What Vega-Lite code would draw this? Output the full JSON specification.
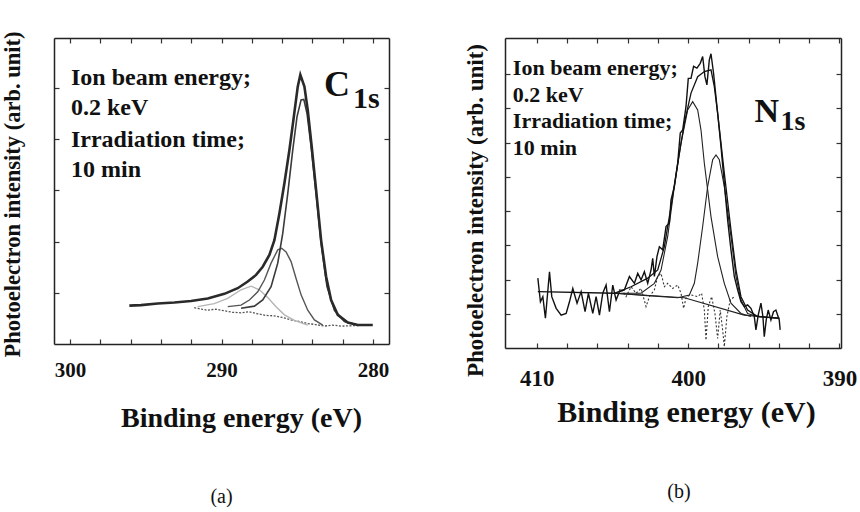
{
  "$schema": "https://vega.github.io/schema/vega-lite/v6.json",
  "background": "white",
  "padding": {"left": 1, "top": 31, "right": 0, "bottom": 0},
  "spacing": 116,
  "bounds": "flush",
  "datasets": {
    "c1s": [
      {"s":"env","be":296.08,"i":0.75},{"s":"env","be":295.31,"i":0.76},{"s":"env","be":294.21,"i":0.79},{"s":"env","be":293.11,"i":0.81},{"s":"env","be":292.01,"i":0.84},{"s":"env","be":290.91,"i":0.89},{"s":"env","be":289.81,"i":0.98},{"s":"env","be":288.93,"i":1.09},{"s":"env","be":288.27,"i":1.22},{"s":"env","be":287.72,"i":1.35},{"s":"env","be":287.28,"i":1.51},{"s":"env","be":286.84,"i":1.74},{"s":"env","be":286.51,"i":2.03},{"s":"env","be":286.18,"i":2.55},{"s":"env","be":285.85,"i":3.14},{"s":"env","be":285.52,"i":3.79},{"s":"env","be":285.23,"i":4.44},{"s":"env","be":284.97,"i":5.03},{"s":"env","be":284.8,"i":5.26},{"s":"env","be":284.53,"i":5.03},{"s":"env","be":284.31,"i":4.57},{"s":"env","be":284.05,"i":3.86},{"s":"env","be":283.76,"i":3.01},{"s":"env","be":283.43,"i":2.03},{"s":"env","be":283.1,"i":1.32},{"s":"env","be":282.77,"i":0.86},{"s":"env","be":282.33,"i":0.57},{"s":"env","be":281.67,"i":0.42},{"s":"env","be":281.01,"i":0.37},{"s":"env","be":280.02,"i":0.37},
      {"s":"main","be":288.71,"i":0.70},{"s":"main","be":287.83,"i":0.74},{"s":"main","be":287.28,"i":0.86},{"s":"main","be":286.73,"i":1.12},{"s":"main","be":286.29,"i":1.58},{"s":"main","be":285.96,"i":2.16},{"s":"main","be":285.63,"i":2.94},{"s":"main","be":285.3,"i":3.79},{"s":"main","be":285.02,"i":4.44},{"s":"main","be":284.75,"i":4.77},{"s":"main","be":284.57,"i":4.78},{"s":"main","be":284.36,"i":4.51},{"s":"main","be":284.09,"i":3.86},{"s":"main","be":283.76,"i":2.94},{"s":"main","be":283.43,"i":1.97},{"s":"main","be":283.04,"i":1.12},{"s":"main","be":282.55,"i":0.66},{"s":"main","be":281.89,"i":0.44},{"s":"main","be":281.01,"i":0.37},
      {"s":"sec","be":289.59,"i":0.73},{"s":"sec","be":288.71,"i":0.76},{"s":"sec","be":288.16,"i":0.86},{"s":"sec","be":287.61,"i":1.02},{"s":"sec","be":287.17,"i":1.25},{"s":"sec","be":286.73,"i":1.58},{"s":"sec","be":286.29,"i":1.84},{"s":"sec","be":286.03,"i":1.87},{"s":"sec","be":285.74,"i":1.80},{"s":"sec","be":285.41,"i":1.61},{"s":"sec","be":285.08,"i":1.28},{"s":"sec","be":284.75,"i":0.96},{"s":"sec","be":284.31,"i":0.66},{"s":"sec","be":283.87,"i":0.47},{"s":"sec","be":283.32,"i":0.37},
      {"s":"third","be":291.57,"i":0.73},{"s":"third","be":290.48,"i":0.79},{"s":"third","be":289.59,"i":0.89},{"s":"third","be":288.71,"i":1.06},{"s":"third","be":288.05,"i":1.13},{"s":"third","be":287.5,"i":1.06},{"s":"third","be":286.95,"i":0.91},{"s":"third","be":286.4,"i":0.73},{"s":"third","be":285.85,"i":0.57},{"s":"third","be":285.19,"i":0.46},{"s":"third","be":284.31,"i":0.37},
      {"s":"base","be":291.8,"i":0.71},{"s":"base","be":291.3,"i":0.68},{"s":"base","be":290.91,"i":0.66},{"s":"base","be":290.4,"i":0.68},{"s":"base","be":289.81,"i":0.65},{"s":"base","be":289.3,"i":0.62},{"s":"base","be":288.71,"i":0.61},{"s":"base","be":288.2,"i":0.63},{"s":"base","be":287.61,"i":0.59},{"s":"base","be":287.1,"i":0.56},{"s":"base","be":286.51,"i":0.55},{"s":"base","be":286.0,"i":0.52},{"s":"base","be":285.41,"i":0.47},{"s":"base","be":284.9,"i":0.44},{"s":"base","be":284.31,"i":0.40},{"s":"base","be":283.8,"i":0.38},{"s":"base","be":283.21,"i":0.35},{"s":"base","be":282.7,"i":0.37},{"s":"base","be":282.11,"i":0.35},{"s":"base","be":281.1,"i":0.36},{"s":"base","be":280.09,"i":0.37}
    ],
    "n1s": [
      {"s":"exp","be":409.93,"i":2.04},{"s":"exp","be":409.76,"i":1.35},{"s":"exp","be":409.6,"i":1.50},{"s":"exp","be":409.43,"i":0.87},{"s":"exp","be":409.16,"i":2.23},{"s":"exp","be":409.01,"i":1.50},{"s":"exp","be":408.72,"i":1.16},{"s":"exp","be":408.39,"i":0.96},{"s":"exp","be":408.06,"i":1.01},{"s":"exp","be":407.84,"i":1.35},{"s":"exp","be":407.62,"i":1.74},{"s":"exp","be":407.34,"i":1.31},{"s":"exp","be":407.07,"i":1.65},{"s":"exp","be":406.81,"i":1.06},{"s":"exp","be":406.59,"i":1.60},{"s":"exp","be":406.3,"i":1.01},{"s":"exp","be":406.08,"i":1.50},{"s":"exp","be":405.86,"i":0.96},{"s":"exp","be":405.64,"i":1.60},{"s":"exp","be":405.42,"i":1.84},{"s":"exp","be":405.2,"i":1.06},{"s":"exp","be":404.98,"i":1.84},{"s":"exp","be":404.76,"i":1.40},{"s":"exp","be":404.54,"i":1.65},{"s":"exp","be":404.21,"i":1.70},{"s":"exp","be":403.88,"i":2.09},{"s":"exp","be":403.55,"i":1.89},{"s":"exp","be":403.33,"i":2.18},{"s":"exp","be":403.11,"i":1.99},{"s":"exp","be":402.89,"i":2.23},{"s":"exp","be":402.67,"i":1.89},{"s":"exp","be":402.45,"i":2.28},{"s":"exp","be":402.34,"i":2.62},{"s":"exp","be":402.23,"i":2.09},{"s":"exp","be":402.06,"i":2.67},{"s":"exp","be":401.9,"i":2.96},{"s":"exp","be":401.68,"i":2.87},{"s":"exp","be":401.46,"i":3.55},{"s":"exp","be":401.24,"i":3.65},{"s":"exp","be":401.13,"i":4.33},{"s":"exp","be":400.91,"i":4.72},{"s":"exp","be":400.69,"i":5.40},{"s":"exp","be":400.52,"i":6.28},{"s":"exp","be":400.36,"i":6.37},{"s":"exp","be":400.14,"i":7.06},{"s":"exp","be":399.99,"i":7.88},{"s":"exp","be":399.81,"i":7.88},{"s":"exp","be":399.64,"i":8.23},{"s":"exp","be":399.42,"i":8.18},{"s":"exp","be":399.2,"i":8.32},{"s":"exp","be":399.04,"i":8.52},{"s":"exp","be":398.89,"i":7.93},{"s":"exp","be":398.76,"i":7.69},{"s":"exp","be":398.6,"i":8.42},{"s":"exp","be":398.49,"i":8.60},{"s":"exp","be":398.32,"i":8.03},{"s":"exp","be":398.05,"i":6.86},{"s":"exp","be":397.83,"i":5.89},{"s":"exp","be":397.61,"i":4.81},{"s":"exp","be":397.39,"i":3.74},{"s":"exp","be":397.17,"i":2.87},{"s":"exp","be":396.95,"i":2.09},{"s":"exp","be":396.73,"i":1.70},{"s":"exp","be":396.51,"i":1.35},{"s":"exp","be":396.29,"i":1.21},{"s":"exp","be":396.07,"i":1.26},{"s":"exp","be":395.85,"i":1.16},{"s":"exp","be":395.63,"i":0.92},{"s":"exp","be":395.52,"i":0.53},{"s":"exp","be":395.37,"i":0.96},{"s":"exp","be":395.19,"i":1.31},{"s":"exp","be":395.06,"i":0.92},{"s":"exp","be":394.97,"i":0.33},{"s":"exp","be":394.84,"i":0.82},{"s":"exp","be":394.71,"i":1.11},{"s":"exp","be":394.53,"i":0.82},{"s":"exp","be":394.36,"i":1.06},{"s":"exp","be":394.2,"i":1.11},{"s":"exp","be":393.98,"i":0.82},{"s":"exp","be":393.92,"i":0.53},
      {"s":"fit","be":409.93,"i":1.65},{"s":"fit","be":404.87,"i":1.60},{"s":"fit","be":403.77,"i":1.79},{"s":"fit","be":402.67,"i":2.04},{"s":"fit","be":402.01,"i":2.28},{"s":"fit","be":401.57,"i":2.96},{"s":"fit","be":401.13,"i":4.13},{"s":"fit","be":400.69,"i":5.40},{"s":"fit","be":400.25,"i":6.57},{"s":"fit","be":399.81,"i":7.45},{"s":"fit","be":399.37,"i":7.93},{"s":"fit","be":398.93,"i":8.08},{"s":"fit","be":398.49,"i":8.13},{"s":"fit","be":398.27,"i":7.64},{"s":"fit","be":398.05,"i":6.86},{"s":"fit","be":397.61,"i":5.11},{"s":"fit","be":397.17,"i":3.45},{"s":"fit","be":396.84,"i":2.28},{"s":"fit","be":396.51,"i":1.50},{"s":"fit","be":396.07,"i":1.11},{"s":"fit","be":395.41,"i":0.92},{"s":"fit","be":393.98,"i":0.87},
      {"s":"p1","be":404.87,"i":1.60},{"s":"p1","be":403.11,"i":1.60},{"s":"p1","be":402.23,"i":1.89},{"s":"p1","be":401.79,"i":2.28},{"s":"p1","be":401.35,"i":3.26},{"s":"p1","be":400.91,"i":4.72},{"s":"p1","be":400.47,"i":5.98},{"s":"p1","be":400.03,"i":6.96},{"s":"p1","be":399.7,"i":7.20},{"s":"p1","be":399.37,"i":6.96},{"s":"p1","be":399.15,"i":6.37},{"s":"p1","be":398.93,"i":5.40},{"s":"p1","be":398.49,"i":3.84},{"s":"p1","be":398.05,"i":2.67},{"s":"p1","be":397.61,"i":1.89},{"s":"p1","be":397.17,"i":1.31},{"s":"p1","be":396.51,"i":1.01},{"s":"p1","be":395.85,"i":0.92},
      {"s":"p2","be":404.87,"i":1.60},{"s":"p2","be":402.67,"i":1.53},{"s":"p2","be":400.69,"i":1.47},{"s":"p2","be":399.92,"i":1.55},{"s":"p2","be":399.59,"i":1.89},{"s":"p2","be":399.37,"i":2.48},{"s":"p2","be":399.04,"i":3.55},{"s":"p2","be":398.71,"i":4.72},{"s":"p2","be":398.38,"i":5.50},{"s":"p2","be":398.16,"i":5.64},{"s":"p2","be":397.94,"i":5.50},{"s":"p2","be":397.61,"i":4.72},{"s":"p2","be":397.17,"i":3.26},{"s":"p2","be":396.84,"i":2.09},{"s":"p2","be":396.51,"i":1.40},{"s":"p2","be":396.07,"i":1.01},{"s":"p2","be":395.41,"i":0.92},{"s":"p2","be":393.98,"i":0.87},
      {"s":"bg","be":404.87,"i":1.60},{"s":"bg","be":400.25,"i":1.47},{"s":"bg","be":396.29,"i":0.96},{"s":"bg","be":393.98,"i":0.87},
      {"s":"res","be":404.76,"i":1.60},{"s":"res","be":404.43,"i":1.74},{"s":"res","be":404.1,"i":1.50},{"s":"res","be":403.77,"i":1.79},{"s":"res","be":403.44,"i":1.60},{"s":"res","be":403.11,"i":1.74},{"s":"res","be":402.78,"i":1.21},{"s":"res","be":402.56,"i":1.50},{"s":"res","be":402.23,"i":1.70},{"s":"res","be":402.01,"i":2.09},{"s":"res","be":401.79,"i":2.18},{"s":"res","be":401.57,"i":1.79},{"s":"res","be":401.35,"i":1.89},{"s":"res","be":401.02,"i":1.74},{"s":"res","be":400.69,"i":1.84},{"s":"res","be":400.47,"i":1.60},{"s":"res","be":400.3,"i":1.16},{"s":"res","be":400.12,"i":1.50},{"s":"res","be":399.81,"i":1.55},{"s":"res","be":399.37,"i":1.50},{"s":"res","be":399.11,"i":1.60},{"s":"res","be":398.93,"i":1.11},{"s":"res","be":398.82,"i":0.23},{"s":"res","be":398.67,"i":1.21},{"s":"res","be":398.45,"i":1.50},{"s":"res","be":398.23,"i":1.01},{"s":"res","be":398.05,"i":0.28},{"s":"res","be":397.88,"i":1.11},{"s":"res","be":397.72,"i":0.53},{"s":"res","be":397.61,"i":0.04},{"s":"res","be":397.44,"i":0.92},{"s":"res","be":397.22,"i":1.40},{"s":"res","be":396.95,"i":1.50}
    ],
    "annL": [
      {"k":"block","be":299.93,"i":5.06,"t":"Ion beam energy;"},
      {"k":"block","be":299.93,"i":4.48,"t":"0.2 keV"},
      {"k":"block","be":299.93,"i":3.85,"t":"Irradiation time;"},
      {"k":"block","be":299.93,"i":3.26,"t":"10 min"},
      {"k":"big","be":283.23,"i":4.85,"t":"C"},
      {"k":"sub","be":281.32,"i":4.61,"t":"1s"}
    ],
    "annR": [
      {"k":"block","be":411.58,"i":7.98,"t":"Ion beam energy;"},
      {"k":"block","be":411.58,"i":7.19,"t":"0.2 keV"},
      {"k":"block","be":411.58,"i":6.43,"t":"Irradiation time;"},
      {"k":"block","be":411.58,"i":5.64,"t":"10 min"},
      {"k":"big","be":395.61,"i":6.61,"t":"N"},
      {"k":"sub","be":393.89,"i":6.37,"t":"1s"}
    ]
  },
  "hconcat": [
    {
      "width": 335,
      "height": 306,
      "title": {"text": "(a)", "orient": "bottom", "anchor": "middle", "offset": 55, "font": "Liberation Serif", "fontSize": 20, "fontWeight": "normal", "color": "#111"},
      "layer": [
        {
          "data": {"name": "c1s"},
          "transform": [{"filter": "datum.s === 'base'"}],
          "mark": {"type": "line", "stroke": "#555", "strokeWidth": 1.3, "strokeDash": [2, 1.5]},
          "encoding": {
            "x": {"field": "be", "type": "quantitative", "scale": {"domain": [278.95, 301.05], "reverse": true, "nice": false, "zero": false},
                  "axis": {"orient": "bottom", "values": [280,282,284,286,288,290,292,294,296,298,300], "labelExpr": "datum.value % 10 === 0 ? datum.label : ''", "labelFontSize": 21, "labelBaseline": "alphabetic", "labelPadding": 37, "title": "Binding energy (eV)", "titleFontSize": 28, "titleX": 187, "titleY": 82, "titleBaseline": "alphabetic", "titleAlign": "center"}},
            "y": {"field": "i", "type": "quantitative", "scale": {"domain": [0, 5.98], "nice": false, "zero": false},
                  "axis": {"orient": "left", "values": [1,2,3,4,5], "labels": false, "title": "Photoelectron intensity (arb. unit)", "titleFontSize": 22.5, "titleX": -30, "titleY": 156, "titleBaseline": "bottom", "titleAlign": "center", "titleAngle": -90}}
          }
        },
        {
          "data": {"name": "c1s"},
          "transform": [{"filter": "datum.s === 'third'"}],
          "mark": {"type": "line", "stroke": "#b5b5b5", "strokeWidth": 1.4},
          "encoding": {
            "x": {"field": "be", "type": "quantitative", "scale": {"domain": [278.95, 301.05], "reverse": true, "nice": false, "zero": false},
                  "axis": {"orient": "top", "values": [280,282,284,286,288,290,292,294,296,298,300], "labels": false, "title": null}},
            "y": {"field": "i", "type": "quantitative", "scale": {"domain": [0, 5.98], "nice": false, "zero": false},
                  "axis": {"orient": "right", "values": [1,2,3,4,5], "labels": false, "title": null}}
          }
        },
        {
          "data": {"name": "c1s"},
          "transform": [{"filter": "datum.s === 'sec'"}],
          "mark": {"type": "line", "stroke": "#555", "strokeWidth": 1.4},
          "encoding": {
            "x": {"field": "be", "type": "quantitative", "scale": {"domain": [278.95, 301.05], "reverse": true, "nice": false, "zero": false}, "axis": null},
            "y": {"field": "i", "type": "quantitative", "scale": {"domain": [0, 5.98], "nice": false, "zero": false}, "axis": null}
          }
        },
        {
          "data": {"name": "c1s"},
          "transform": [{"filter": "datum.s === 'main'"}],
          "mark": {"type": "line", "stroke": "#3a3a3a", "strokeWidth": 1.6},
          "encoding": {
            "x": {"field": "be", "type": "quantitative", "scale": {"domain": [278.95, 301.05], "reverse": true, "nice": false, "zero": false}, "axis": null},
            "y": {"field": "i", "type": "quantitative", "scale": {"domain": [0, 5.98], "nice": false, "zero": false}, "axis": null}
          }
        },
        {
          "data": {"name": "c1s"},
          "transform": [{"filter": "datum.s === 'env'"}],
          "mark": {"type": "line", "stroke": "#2a2a2a", "strokeWidth": 2.6},
          "encoding": {
            "x": {"field": "be", "type": "quantitative", "scale": {"domain": [278.95, 301.05], "reverse": true, "nice": false, "zero": false}, "axis": null},
            "y": {"field": "i", "type": "quantitative", "scale": {"domain": [0, 5.98], "nice": false, "zero": false}, "axis": null}
          }
        },
        {
          "data": {"name": "annL"},
          "transform": [{"filter": "datum.k === 'block'"}],
          "mark": {"type": "text", "font": "Liberation Serif", "fontWeight": "bold", "fontSize": 24, "align": "left", "baseline": "alphabetic", "color": "#111"},
          "encoding": {
            "x": {"field": "be", "type": "quantitative", "scale": {"domain": [278.95, 301.05], "reverse": true, "nice": false, "zero": false}, "axis": null},
            "y": {"field": "i", "type": "quantitative", "scale": {"domain": [0, 5.98], "nice": false, "zero": false}, "axis": null},
            "text": {"field": "t"}
          }
        },
        {
          "data": {"name": "annL"},
          "transform": [{"filter": "datum.k === 'big'"}],
          "mark": {"type": "text", "font": "Liberation Serif", "fontWeight": "bold", "fontSize": 36, "align": "left", "baseline": "alphabetic", "color": "#111"},
          "encoding": {
            "x": {"field": "be", "type": "quantitative", "scale": {"domain": [278.95, 301.05], "reverse": true, "nice": false, "zero": false}, "axis": null},
            "y": {"field": "i", "type": "quantitative", "scale": {"domain": [0, 5.98], "nice": false, "zero": false}, "axis": null},
            "text": {"field": "t"}
          }
        },
        {
          "data": {"name": "annL"},
          "transform": [{"filter": "datum.k === 'sub'"}],
          "mark": {"type": "text", "font": "Liberation Serif", "fontWeight": "bold", "fontSize": 30, "align": "left", "baseline": "alphabetic", "color": "#111"},
          "encoding": {
            "x": {"field": "be", "type": "quantitative", "scale": {"domain": [278.95, 301.05], "reverse": true, "nice": false, "zero": false}, "axis": null},
            "y": {"field": "i", "type": "quantitative", "scale": {"domain": [0, 5.98], "nice": false, "zero": false}, "axis": null},
            "text": {"field": "t"}
          }
        }
      ],
      "resolve": {"axis": {"x": "independent", "y": "independent"}}
    },
    {
      "width": 336,
      "height": 310,
      "title": {"text": "(b)", "orient": "bottom", "anchor": "middle", "offset": 55, "dx": 6, "font": "Liberation Serif", "fontSize": 20, "fontWeight": "normal", "color": "#111"},
      "layer": [
        {
          "data": {"name": "n1s"},
          "transform": [{"filter": "datum.s === 'res'"}],
          "mark": {"type": "line", "stroke": "#333", "strokeWidth": 1.1, "strokeDash": [2, 2]},
          "encoding": {
            "x": {"field": "be", "type": "quantitative", "scale": {"domain": [389.9, 412.1], "reverse": true, "nice": false, "zero": false},
                  "axis": {"orient": "bottom", "values": [390,392,394,396,398,400,402,404,406,408,410], "labelExpr": "datum.value % 10 === 0 ? datum.label : ''", "labelFontSize": 23, "labelBaseline": "alphabetic", "labelPadding": 42, "title": "Binding energy (eV)", "titleFontSize": 30, "titleX": 181, "titleY": 73, "titleBaseline": "alphabetic", "titleAlign": "center"}},
            "y": {"field": "i", "type": "quantitative", "scale": {"domain": [0, 9.06], "nice": false, "zero": false},
                  "axis": {"orient": "left", "values": [1,2,3,4,5,6,7,8], "labels": false, "title": "Photoelectron intensity (arb. unit)", "titleFontSize": 23, "titleX": -18, "titleY": 172, "titleBaseline": "bottom", "titleAlign": "center", "titleAngle": -90}}
          }
        },
        {
          "data": {"name": "n1s"},
          "transform": [{"filter": "datum.s === 'bg'"}],
          "mark": {"type": "line", "stroke": "#222", "strokeWidth": 1.1},
          "encoding": {
            "x": {"field": "be", "type": "quantitative", "scale": {"domain": [389.9, 412.1], "reverse": true, "nice": false, "zero": false},
                  "axis": {"orient": "top", "values": [390,392,394,396,398,400,402,404,406,408,410], "labels": false, "title": null}},
            "y": {"field": "i", "type": "quantitative", "scale": {"domain": [0, 9.06], "nice": false, "zero": false},
                  "axis": {"orient": "right", "values": [1,2,3,4,5,6,7,8], "labels": false, "title": null}}
          }
        },
        {
          "data": {"name": "n1s"},
          "transform": [{"filter": "datum.s === 'p1'"}],
          "mark": {"type": "line", "stroke": "#222", "strokeWidth": 1.1},
          "encoding": {
            "x": {"field": "be", "type": "quantitative", "scale": {"domain": [389.9, 412.1], "reverse": true, "nice": false, "zero": false}, "axis": null},
            "y": {"field": "i", "type": "quantitative", "scale": {"domain": [0, 9.06], "nice": false, "zero": false}, "axis": null}
          }
        },
        {
          "data": {"name": "n1s"},
          "transform": [{"filter": "datum.s === 'p2'"}],
          "mark": {"type": "line", "stroke": "#222", "strokeWidth": 1.1},
          "encoding": {
            "x": {"field": "be", "type": "quantitative", "scale": {"domain": [389.9, 412.1], "reverse": true, "nice": false, "zero": false}, "axis": null},
            "y": {"field": "i", "type": "quantitative", "scale": {"domain": [0, 9.06], "nice": false, "zero": false}, "axis": null}
          }
        },
        {
          "data": {"name": "n1s"},
          "transform": [{"filter": "datum.s === 'fit'"}],
          "mark": {"type": "line", "stroke": "#111", "strokeWidth": 1.3},
          "encoding": {
            "x": {"field": "be", "type": "quantitative", "scale": {"domain": [389.9, 412.1], "reverse": true, "nice": false, "zero": false}, "axis": null},
            "y": {"field": "i", "type": "quantitative", "scale": {"domain": [0, 9.06], "nice": false, "zero": false}, "axis": null}
          }
        },
        {
          "data": {"name": "n1s"},
          "transform": [{"filter": "datum.s === 'exp'"}],
          "mark": {"type": "line", "stroke": "#111", "strokeWidth": 1.4},
          "encoding": {
            "x": {"field": "be", "type": "quantitative", "scale": {"domain": [389.9, 412.1], "reverse": true, "nice": false, "zero": false}, "axis": null},
            "y": {"field": "i", "type": "quantitative", "scale": {"domain": [0, 9.06], "nice": false, "zero": false}, "axis": null}
          }
        },
        {
          "data": {"name": "annR"},
          "transform": [{"filter": "datum.k === 'block'"}],
          "mark": {"type": "text", "font": "Liberation Serif", "fontWeight": "bold", "fontSize": 22, "align": "left", "baseline": "alphabetic", "color": "#111"},
          "encoding": {
            "x": {"field": "be", "type": "quantitative", "scale": {"domain": [389.9, 412.1], "reverse": true, "nice": false, "zero": false}, "axis": null},
            "y": {"field": "i", "type": "quantitative", "scale": {"domain": [0, 9.06], "nice": false, "zero": false}, "axis": null},
            "text": {"field": "t"}
          }
        },
        {
          "data": {"name": "annR"},
          "transform": [{"filter": "datum.k === 'big'"}],
          "mark": {"type": "text", "font": "Liberation Serif", "fontWeight": "bold", "fontSize": 34, "align": "left", "baseline": "alphabetic", "color": "#111"},
          "encoding": {
            "x": {"field": "be", "type": "quantitative", "scale": {"domain": [389.9, 412.1], "reverse": true, "nice": false, "zero": false}, "axis": null},
            "y": {"field": "i", "type": "quantitative", "scale": {"domain": [0, 9.06], "nice": false, "zero": false}, "axis": null},
            "text": {"field": "t"}
          }
        },
        {
          "data": {"name": "annR"},
          "transform": [{"filter": "datum.k === 'sub'"}],
          "mark": {"type": "text", "font": "Liberation Serif", "fontWeight": "bold", "fontSize": 28, "align": "left", "baseline": "alphabetic", "color": "#111"},
          "encoding": {
            "x": {"field": "be", "type": "quantitative", "scale": {"domain": [389.9, 412.1], "reverse": true, "nice": false, "zero": false}, "axis": null},
            "y": {"field": "i", "type": "quantitative", "scale": {"domain": [0, 9.06], "nice": false, "zero": false}, "axis": null},
            "text": {"field": "t"}
          }
        }
      ],
      "resolve": {"axis": {"x": "independent", "y": "independent"}}
    }
  ],
  "config": {
    "view": {"stroke": null},
    "font": "Liberation Serif",
    "axis": {"domainColor": "#222", "domainWidth": 1.5, "tickColor": "#333", "tickWidth": 1.2, "tickSize": -5, "grid": false, "labelFont": "Liberation Serif", "labelFontWeight": "bold", "labelColor": "#111", "titleFont": "Liberation Serif", "titleFontWeight": "bold", "titleColor": "#111", "labelOverlap": false, "labelFlush": false}
  }
}
